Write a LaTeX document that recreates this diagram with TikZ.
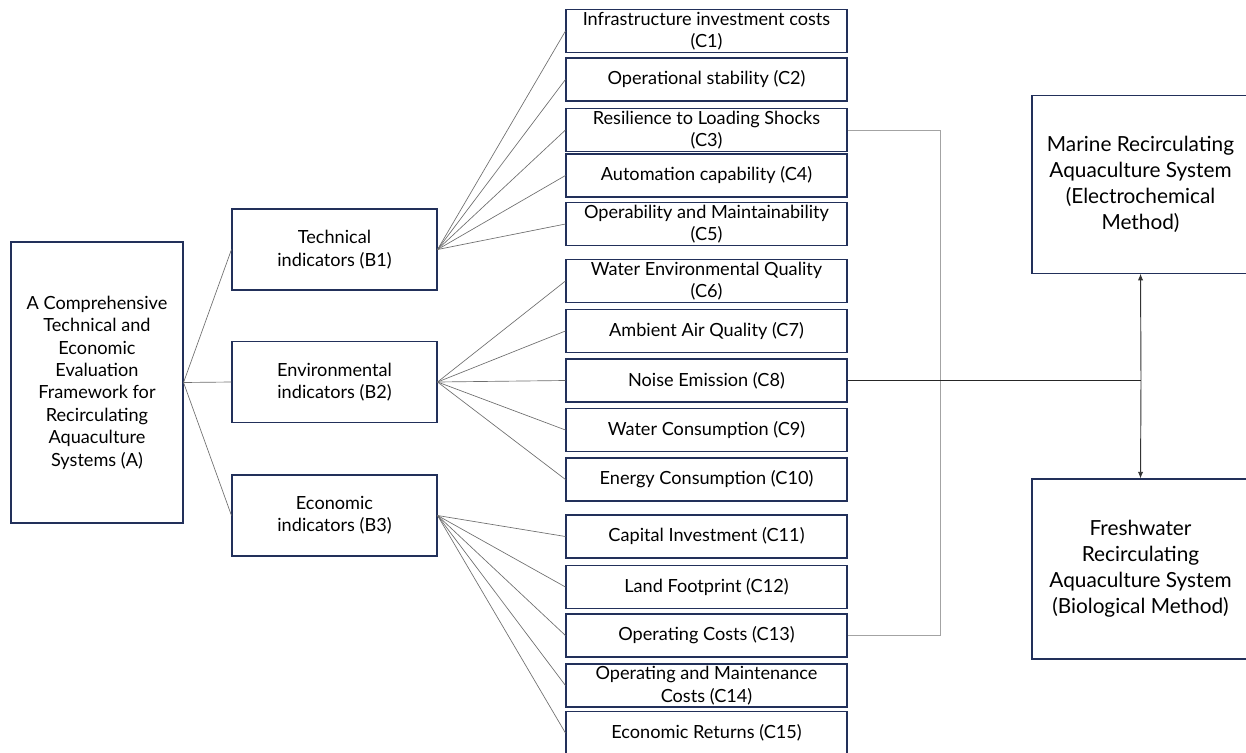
\documentclass[tikz,border=0pt]{standalone}
\usepackage{fontspec}
\setmainfont{Lato}
\usepackage{xcolor}
\usepackage{tikz}
\usetikzlibrary{arrows.meta}
\definecolor{boxline}{HTML}{22305A}
\definecolor{fanline}{HTML}{6E6E6E}
\definecolor{brkline}{HTML}{A3A3A3}
\tikzset{
  box main/.style={
    draw=boxline, line width=0.8pt, align=center, inner sep=0pt,
    font=\fontsize{13.6}{16.8}\selectfont
  },
  box root/.style={box main, minimum width=129pt, minimum height=210.75pt},
  box group/.style={box main, minimum width=153.75pt, minimum height=60.75pt},
  box item/.style={box main, minimum width=210.75pt, minimum height=32.25pt},
  box system/.style={
    box main, minimum width=162.75pt, minimum height=133pt,
    font=\fontsize{15.6}{19.5}\selectfont
  }
}

\begin{document}
\begin{tikzpicture}[x=0.75pt,y=-0.75pt]
    \useasboundingbox (0,0) rectangle (1246,753);
    \node[box root] (A) at (97,382.5) {A Comprehensive\\Technical and\\Economic\\Evaluation\\Framework for\\Recirculating\\Aquaculture\\Systems (A)};
    \begin{scope}[every node/.style={box group}]
        \node (B1) at (334.5,249.5) {Technical\\indicators (B1)};
        \node (B2) at (334.5,382) {Environmental\\indicators (B2)};
        \node (B3) at (334.5,515.5) {Economic\\indicators (B3)};
    \end{scope}
    \begin{scope}[every node/.style={box item}]
        \node (C1) at (706.5,31) {Infrastructure investment costs\\(C1)};
        \node (C2) at (706.5,79.5) {Operational stability (C2)};
        \node (C3) at (706.5,130) {Resilience to Loading Shocks\\(C3)};
        \node (C4) at (706.5,175.5) {Automation capability (C4)};
        \node (C5) at (706.5,224) {Operability and Maintainability\\(C5)};
        \node (C6) at (706.5,281) {Water Environmental Quality\\(C6)};
        \node (C7) at (706.5,331) {Ambient Air Quality (C7)};
        \node (C8) at (706.5,380.5) {Noise Emission (C8)};
        \node (C9) at (706.5,430) {Water Consumption (C9)};
        \node (C10) at (706.5,479.5) {Energy Consumption (C10)};
        \node (C11) at (706.5,536.5) {Capital Investment (C11)};
        \node (C12) at (706.5,587) {Land Footprint (C12)};
        \node (C13) at (706.5,635.5) {Operating Costs (C13)};
        \node (C14) at (706.5,685.5) {Operating and Maintenance\\Costs (C14)};
        \node (C15) at (706.5,733) {Economic Returns (C15)};
    \end{scope}
    \begin{scope}[every node/.style={box system}]
        \node (M) at (1140.5,184.5) {Marine Recirculating\\Aquaculture System\\(Electrochemical\\Method)};
        \node[minimum height=135pt] (F) at (1140.5,569) {Freshwater\\Recirculating\\Aquaculture System\\(Biological Method)};
    \end{scope}
    \coordinate (brk) at (940,380.5);
    \coordinate (hub) at (1141,380.5);
    % fan lines
    \begin{scope}[every edge/.style={draw=fanline,line width=0.5pt}]
        \path (A.east) edge (B1.west) edge (B2.west) edge (B3.west);
        \path (B1.east) edge (C1.west) edge (C2.west) edge (C3.west) edge (C4.west) edge (C5.west);
        \path (B2.east) edge (C6.west) edge (C7.west) edge (C8.west) edge (C9.west) edge (C10.west);
        \path (B3.east) edge (C11.west) edge (C12.west) edge (C13.west) edge (C14.west) edge (C15.west);
    \end{scope}
    % links to the two systems
    \draw [draw=brkline,line width=0.7pt] (C3.east) -| (brk) |- (C13.east);
    \begin{scope}[>={Latex[length=5pt,width=4pt]}, every edge/.style={draw=black!80,line width=0.7pt}]
        \draw [black!85,line width=0.7pt] (C8.east) -- (hub);
        \path [->] (hub) edge (M.south);
        \path [->] (hub) edge (F.north);
    \end{scope}
\end{tikzpicture}
\end{document}
